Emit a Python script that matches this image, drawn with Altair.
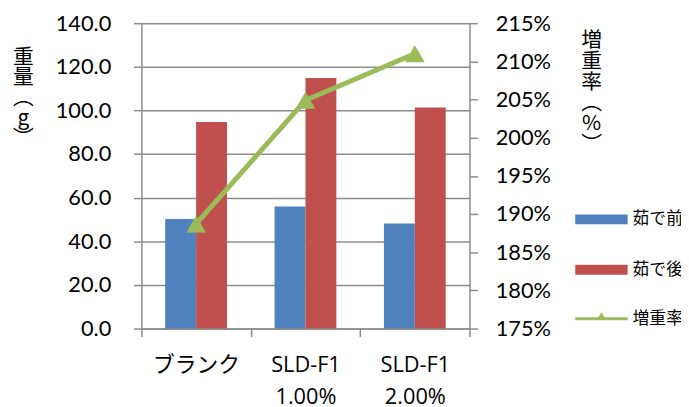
import altair as alt
import pandas as pd

categories = ["ブランク", "SLD-F1\n1.00%", "SLD-F1\n2.00%"]
before = [50.2, 56.0, 48.2]
after = [94.7, 114.9, 101.4]
rate = [1.887, 2.049, 2.110]
series_names = ["茹で前", "茹で後"]
rate_name = "増重率"
left_ticks = [0, 20, 40, 60, 80, 100, 120, 140]
right_ticks = [1.75, 1.80, 1.85, 1.90, 1.95, 2.00, 2.05, 2.10, 2.15]

BLUE = "#4F81BD"
RED = "#C0504D"
GREEN = "#9BBB59"
GRAY = "#8c8c8c"
NUM_FONT = "Lato, 'Noto Sans CJK JP'"
X_FONT = "'Open Sans', 'Noto Sans CJK JP'"
CJK_FONT = "Noto Sans CJK JP"

rows = []
for c, b, a in zip(categories, before, after):
    rows.append({"category": c, "series": series_names[0], "value": b})
    rows.append({"category": c, "series": series_names[1], "value": a})
df_bars = pd.DataFrame(rows)
df_rate = pd.DataFrame({"category": categories, "rate": rate, "name": [rate_name] * 3})

x_enc = alt.X(
    "category:N",
    sort=categories,
    scale=alt.Scale(paddingInner=0, paddingOuter=0),
    axis=alt.Axis(
        title=None,
        labelAngle=0,
        tickBand="extent",
        tickSize=8,
        tickColor=GRAY,
        tickWidth=1.5,
        domainColor=GRAY,
        domainWidth=1.5,
        labelPadding=18,
        labelFontSize=22,
        labelFont=X_FONT,
        labelColor="black",
        labelLineHeight=33,
        labelExpr="split(datum.label, '\\n')",
        grid=False,
    ),
)

bars = alt.Chart(df_bars).mark_bar().encode(
    x=x_enc,
    xOffset=alt.XOffset(
        "series:N", sort=series_names, scale=alt.Scale(paddingInner=0, paddingOuter=0.77)
    ),
    y=alt.Y(
        "value:Q",
        scale=alt.Scale(domain=[0, 140], nice=False),
        axis=alt.Axis(
            orient="left",
            values=left_ticks,
            format=".1f",
            grid=True,
            gridColor=GRAY,
            gridWidth=1.5,
            domainColor=GRAY,
            domainWidth=1.5,
            tickColor=GRAY,
            tickWidth=1.5,
            tickSize=8,
            labelPadding=23,
            labelFontSize=22,
            labelFont=NUM_FONT,
            labelColor="black",
            title=["重", "量", "︵", "g", "︶"],
            titleAngle=0,
            titleX=-120,
            titleY=24,
            titleAlign="center",
            titleBaseline="top",
            titleLineHeight=20.5,
            titleFontSize=21,
            titleFont=CJK_FONT,
            titleFontWeight="normal",
            titleColor="black",
        ),
    ),
    color=alt.Color(
        "series:N",
        scale=alt.Scale(domain=series_names, range=[BLUE, RED]),
        legend=alt.Legend(
            title=None,
            orient="none",
            legendX=439,
            legendY=190,
            padding=0,
            symbolType="M-5.3,-1H5.3V1H-5.3Z",
            symbolSize=100,
            symbolOffset=18,
            symbolStrokeWidth=0,
            labelOffset=23,
            labelFontSize=17,
            labelFont=CJK_FONT,
            labelColor="black",
            rowPadding=33,
        ),
    ),
)

y_rate = alt.Y(
    "rate:Q",
    scale=alt.Scale(domain=[1.75, 2.15], nice=False, zero=False),
    axis=alt.Axis(
        orient="right",
        values=right_ticks,
        format=".0%",
        grid=False,
        domainColor=GRAY,
        domainWidth=1.5,
        tickColor=GRAY,
        tickWidth=1.5,
        tickSize=8,
        labelPadding=18,
        labelFontSize=22,
        labelFont=NUM_FONT,
        labelColor="black",
        title=["増", "重", "率", "︵", "%", "︶"],
        titleAngle=0,
        titleX=123,
        titleY=7,
        titleAlign="center",
        titleBaseline="top",
        titleLineHeight=21,
        titleFontSize=21,
        titleFont=CJK_FONT,
        titleFontWeight="normal",
        titleColor="black",
    ),
)

line = alt.Chart(df_rate).mark_line(color=GREEN, strokeWidth=5).encode(x=x_enc, y=y_rate)
points = alt.Chart(df_rate).mark_point(
    filled=True, shape="triangle-up", size=400, opacity=1
).encode(
    x=x_enc,
    y=y_rate,
    color=alt.Color(
        "name:N",
        scale=alt.Scale(domain=[rate_name], range=[GREEN]),
        legend=alt.Legend(
            title=None,
            orient="none",
            legendX=439,
            legendY=290.5,
            padding=0,
            symbolType="M-5.3,-0.3H5.3V0.3H-5.3ZM-0.8,0L0,-1.3L0.8,0Z",
            symbolSize=100,
            symbolOffset=18,
            symbolStrokeWidth=0,
            labelOffset=23,
            labelFontSize=17,
            labelFont=CJK_FONT,
            labelColor="black",
        ),
    ),
)

chart = (
    alt.layer(bars, alt.layer(line, points))
    .resolve_scale(y="independent", color="independent")
    .properties(
        width=332,
        height=309,
        padding={"left": 135, "top": 13, "right": 214, "bottom": 77},
        autosize=alt.AutoSizeParams(type="none"),
        background="white",
    )
    .configure_view(stroke=None)
)

chart.save("out.html", embed_options={"renderer": "svg", "actions": False})
